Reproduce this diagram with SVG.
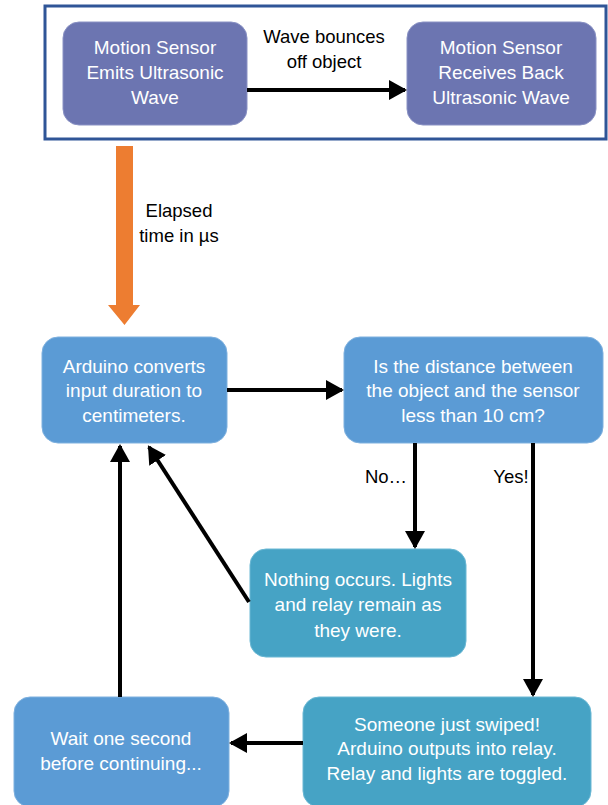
<svg xmlns="http://www.w3.org/2000/svg" width="608" height="805" viewBox="0 0 608 805">
<style>
.t{font-family:"Liberation Sans",Arial,sans-serif;font-size:19px;fill:#fff;text-anchor:middle}
.k{font-family:"Liberation Sans",Arial,sans-serif;font-size:18.5px;fill:#000;text-anchor:middle}
.p{fill:#6C75B1;stroke:#8a92c4;stroke-width:1}
.b{fill:#5B9BD5;stroke:#7fb1df;stroke-width:1}
.c{fill:#46A3C5;stroke:#6bb8d4;stroke-width:1}
.e{stroke:#000;stroke-width:4;fill:none;marker-end:url(#ah)}
</style>
<defs>
<marker id="ah" markerWidth="5" markerHeight="5" refX="4" refY="2.5" orient="auto" markerUnits="strokeWidth">
<path d="M0,0 L4.5,2.5 L0,5 Z" fill="#000"/>
</marker>
</defs>
<rect x="45" y="6" width="561" height="133" fill="#fff" stroke="#2F5597" stroke-width="3"/>
<g id="n1"><rect class="p" x="63" y="22" width="184" height="103" rx="16"/>
<text class="t" x="155" y="54">Motion Sensor</text><text class="t" x="155" y="79">Emits Ultrasonic</text><text class="t" x="155" y="104">Wave</text></g>
<g id="n2"><rect class="p" x="407" y="22" width="189" height="103" rx="16"/>
<text class="t" x="501" y="54">Motion Sensor</text><text class="t" x="501" y="79">Receives Back</text><text class="t" x="501" y="104">Ultrasonic Wave</text></g>
<g id="nA"><rect class="b" x="42" y="337" width="185" height="106" rx="16"/>
<text class="t" x="134" y="373">Arduino converts</text><text class="t" x="134" y="397">input duration to</text><text class="t" x="134" y="422">centimeters.</text></g>
<g id="nB"><rect class="b" x="344" y="337" width="259" height="106" rx="16"/>
<text class="t" x="473" y="373">Is the distance between</text><text class="t" x="473" y="397">the object and the sensor</text><text class="t" x="473" y="422">less than 10 cm?</text></g>
<g id="nC"><rect class="c" x="250" y="549" width="216" height="108" rx="16"/>
<text class="t" x="358" y="586">Nothing occurs. Lights</text><text class="t" x="358" y="611">and relay remain as</text><text class="t" x="358" y="637">they were.</text></g>
<g id="nD"><rect class="c" x="303" y="697" width="288" height="110" rx="16"/>
<text class="t" x="447" y="731">Someone just swiped!</text><text class="t" x="447" y="755">Arduino outputs into relay.</text><text class="t" x="447" y="780">Relay and lights are toggled.</text></g>
<g id="nE"><rect class="b" x="14" y="697" width="215" height="110" rx="16"/>
<text class="t" x="121" y="745">Wait one second</text><text class="t" x="121" y="770">before continuing...</text></g>
<g id="edges">
<line class="e" x1="247" y1="90" x2="405" y2="90"/>
<path d="M116,146 H133 V305 H140 L124.5,325 L108,305 H116 Z" fill="#ED7D31"/>
<line class="e" x1="227" y1="390" x2="342" y2="390"/>
<line class="e" x1="415" y1="443" x2="415" y2="547"/>
<line class="e" x1="533" y1="443" x2="533" y2="695"/>
<line class="e" x1="303" y1="743" x2="231" y2="743"/>
<line class="e" x1="120" y1="697" x2="120" y2="446"/>
<line class="e" x1="249" y1="602" x2="149" y2="447"/>
</g>
<text class="k" x="324" y="43">Wave bounces</text>
<text class="k" x="324" y="68">off object</text>
<text class="k" x="179" y="217">Elapsed</text>
<text class="k" x="179" y="242">time in µs</text>
<text class="k" x="386" y="483">No…</text>
<text class="k" x="511" y="483">Yes!</text>
</svg>
